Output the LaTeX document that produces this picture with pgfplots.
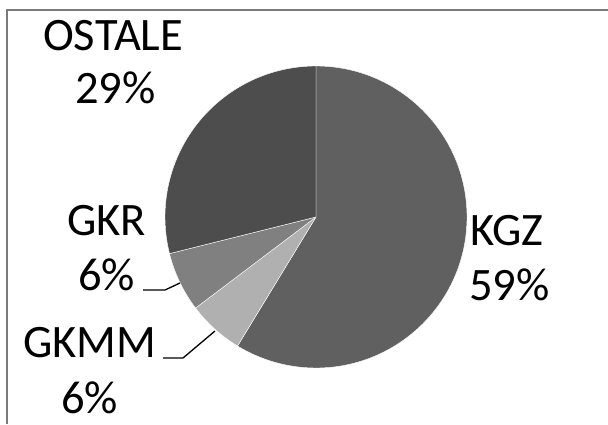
\documentclass[border=0pt]{standalone}
\usepackage{pgfplots}
\pgfplotsset{compat=1.18}
\usepackage{pgfplotstable}
\usepackage{fontspec}
\setmainfont{Carlito}
\definecolor{pie0}{HTML}{606060}
\definecolor{pie1}{HTML}{B0B0B0}
\definecolor{pie2}{HTML}{808080}
\definecolor{pie3}{HTML}{4D4D4D}
\definecolor{frame}{HTML}{7A7A7A}
\pgfplotstableread{
label value
KGZ 58.7
GKMM 6.0
GKR 6.4
OSTALE 28.9
}\piedata
\begin{document}
\begin{tikzpicture}
\begin{axis}[
  hide axis, scale only axis, width=608pt, height=424pt,
  xmin=0, xmax=608, ymin=0, ymax=424, clip=false,
]
\pgfplotsextra{
  \gdef\cum{0}
  \foreach \i in {0,...,3}{
    \pgfplotstablegetelem{\i}{value}\of\piedata
    \pgfmathsetmacro\a{90-3.6*\cum}
    \pgfmathsetmacro\b{90-3.6*(\cum+\pgfplotsretval)}
    \fill[pie\i, draw=white, line width=0.4pt, line join=round]
      (axis cs:316,207) -- ([shift={(\a:151pt)}]axis cs:316,207)
      arc[start angle=\a, end angle=\b, radius=151pt] -- cycle;
    \pgfmathsetmacro\c{\cum+\pgfplotsretval}
    \xdef\cum{\c}
  }
}
\draw[frame, line width=1.3pt] (axis cs:7,0) -- (axis cs:7,414) -- (axis cs:608,414);
\draw[black, line width=1.3pt] (axis cs:143,134) -- (axis cs:165,134) -- (axis cs:180,141);
\draw[black, line width=1.3pt] (axis cs:163,66) -- (axis cs:183,66) -- (axis cs:215,93);
\def\lf{\fontsize{46.5}{55}\selectfont}
\node[anchor=base west, inner sep=0pt, font=\lf] at (axis cs:43,373) {OSTALE};
\node[anchor=base west, inner sep=0pt, font=\lf] at (axis cs:75,320) {29\%};
\node[anchor=base west, inner sep=0pt, font=\lf] at (axis cs:67,189) {GKR};
\node[anchor=base west, inner sep=0pt, font=\lf] at (axis cs:78,134) {6\%};
\node[anchor=base west, inner sep=0pt, font=\lf] at (axis cs:23,67) {GKMM};
\node[anchor=base west, inner sep=0pt, font=\lf] at (axis cs:61,11) {6\%};
\node[anchor=base west, inner sep=0pt, font=\lf] at (axis cs:470,179) {KGZ};
\node[anchor=base west, inner sep=0pt, font=\lf] at (axis cs:469,124) {59\%};
\end{axis}
\pgfresetboundingbox
\path (current axis.south west) rectangle (current axis.north east);
\end{tikzpicture}
\end{document}
